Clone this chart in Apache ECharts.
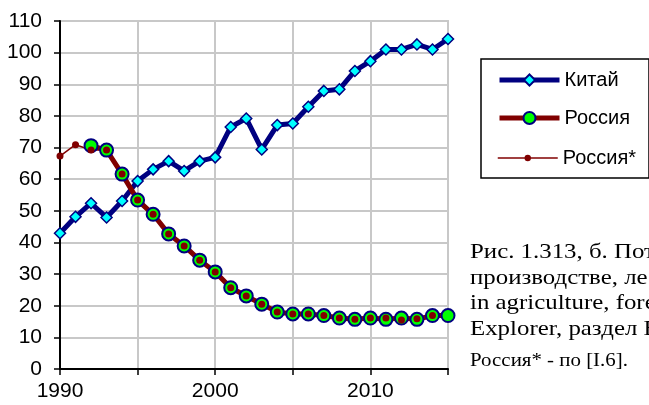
<!DOCTYPE html>
<html>
<head>
<meta charset="utf-8">
<script src="https://cdn.jsdelivr.net/npm/echarts@6/dist/echarts.min.js"></script>
<style>
html, body { margin: 0; padding: 0; background: #fff; }
#chart { width: 649px; height: 405px; }
</style>
</head>
<body>
<div id="chart"></div>
<script>
// China: 1990..2015
const chinaYears = [1990, 1991, 1992, 1993, 1994, 1995, 1996, 1997, 1998, 1999, 2000, 2001, 2002,
  2003, 2004, 2005, 2006, 2007, 2008, 2009, 2010, 2011, 2012, 2013, 2014, 2015];
const chinaValues = [42.9, 48.1, 52.4, 47.9, 53.1, 59.4, 63.1, 65.7, 62.6, 65.7, 66.9, 76.5, 79.2,
  69.4, 77.1, 77.6, 82.9, 87.9, 88.4, 94.2, 97.3, 101.0, 101.0, 102.6, 101.0, 104.3];

// Russia: 1992..2015
const russiaYears = [1992, 1993, 1994, 1995, 1996, 1997, 1998, 1999, 2000, 2001, 2002, 2003,
  2004, 2005, 2006, 2007, 2008, 2009, 2010, 2011, 2012, 2013, 2014, 2015];
const russiaValues = [70.6, 69.2, 61.6, 53.4, 48.9, 42.7, 38.9, 34.4, 30.7, 25.7, 23.1, 20.5,
  18.0, 17.4, 17.4, 16.9, 16.1, 15.7, 16.1, 15.7, 16.1, 15.7, 16.9, 16.9];

// Russia* (по [I.6]): 1990..2014
const russia2Years = [1990, 1991, 1992, 1993, 1994, 1995, 1996, 1997, 1998, 1999, 2000, 2001,
  2002, 2003, 2004, 2005, 2006, 2007, 2008, 2009, 2010, 2011, 2012, 2013, 2014];
const russia2Values = [67.3, 70.9, 69.2, 69.2, 61.6, 53.4, 48.9, 42.7, 38.9, 34.4, 30.7, 25.7,
  23.1, 20.5, 18.0, 17.4, 17.4, 16.9, 16.1, 15.7, 16.1, 16.1, 15.5, 15.9, 16.9];

const seriesNames = ['Китай', 'Россия', 'Россия*'];

const captionLines = [
  'Рис. 1.313, б. Потребление',
  'производстве, лесном',
  'in agriculture, forestry',
  'Explorer, раздел Energy'
];
const captionNote = 'Россия* - по [I.6].';

const pairs = (xs, ys) => xs.map((x, i) => [x, ys[i]]);

const chart = echarts.init(document.getElementById('chart'));

const sansFont = '"Liberation Sans", Arial, sans-serif';
const serifFont = '"Liberation Serif", "Times New Roman", serif';

// одна легенда на каждую серию, чтобы задать свой размер значка
function makeLegend(name, top, itemHeight, lineWidth) {
  return {
    data: [name],
    left: 497,
    top: top,
    padding: 0,
    itemWidth: 60,
    itemHeight: itemHeight,
    itemGap: 5,
    selectedMode: false,
    lineStyle: { width: lineWidth },
    textStyle: { fontSize: 20, color: '#000', fontFamily: sansFont }
  };
}

const option = {
  animation: false,
  backgroundColor: '#fff',
  grid: {
    left: 60, right: 201, top: 21, bottom: 36,
    show: true,
    borderColor: '#a0a0a0',
    borderWidth: 1.5
  },
  legend: [
    makeLegend(seriesNames[0], 70, 14, 5),
    makeLegend(seriesNames[1], 108, 15, 5),
    makeLegend(seriesNames[2], 148, 8, 1.5)
  ],
  xAxis: {
    type: 'value',
    min: 1990,
    max: 2015,
    interval: 5,
    axisLine: { show: true, onZero: false, lineStyle: { color: '#000', width: 2 } },
    axisTick: { show: true, length: 6, lineStyle: { color: '#000', width: 1.5 } },
    axisLabel: {
      formatter: v => (v % 10 === 0 ? String(v) : ''),
      fontSize: 21, color: '#000', fontFamily: sansFont, margin: 12
    },
    splitLine: { show: true, lineStyle: { color: '#c8c8c8', width: 2 } }
  },
  yAxis: {
    type: 'value',
    min: 0,
    max: 110,
    interval: 10,
    axisLine: { show: true, lineStyle: { color: '#000', width: 2 } },
    axisTick: { show: true, length: 6, lineStyle: { color: '#000', width: 1.5 } },
    axisLabel: { fontSize: 21, color: '#000', fontFamily: sansFont, margin: 18 },
    splitLine: { show: true, lineStyle: { color: '#c8c8c8', width: 2 } }
  },
  graphic: [
    {
      type: 'rect',
      shape: { x: 481, y: 59, width: 168, height: 119 },
      style: { fill: 'none', stroke: '#000', lineWidth: 1.5 },
      z: 0
    },
    ...captionLines.map((t, i) => ({
      type: 'text',
      x: 470,
      y: 252 + i * 25.8,
      scaleX: 1.13,
      style: { text: t, font: '22px ' + serifFont, fill: '#000', verticalAlign: 'middle' }
    })),
    {
      type: 'text',
      x: 470,
      y: 361,
      scaleX: 1.1,
      style: { text: captionNote, font: '19px ' + serifFont, fill: '#000', verticalAlign: 'middle' }
    }
  ],
  series: [
    {
      name: seriesNames[0],
      type: 'line',
      clip: false,
      data: pairs(chinaYears, chinaValues),
      symbol: 'diamond',
      symbolSize: 11,
      lineStyle: { color: '#000080', width: 5 },
      itemStyle: { color: '#00ffff', borderColor: '#000080', borderWidth: 1.5 }
    },
    {
      name: seriesNames[1],
      type: 'line',
      clip: false,
      data: pairs(russiaYears, russiaValues),
      symbol: 'circle',
      symbolSize: 13,
      lineStyle: { color: '#800000', width: 5 },
      itemStyle: { color: '#00ff00', borderColor: '#000080', borderWidth: 2 }
    },
    {
      name: seriesNames[2],
      type: 'line',
      clip: false,
      data: pairs(russia2Years, russia2Values),
      symbol: 'circle',
      symbolSize: 7,
      lineStyle: { color: '#800000', width: 1.5 },
      itemStyle: { color: '#800000', borderWidth: 0 }
    }
  ]
};

chart.setOption(option);
</script>
</body>
</html>
